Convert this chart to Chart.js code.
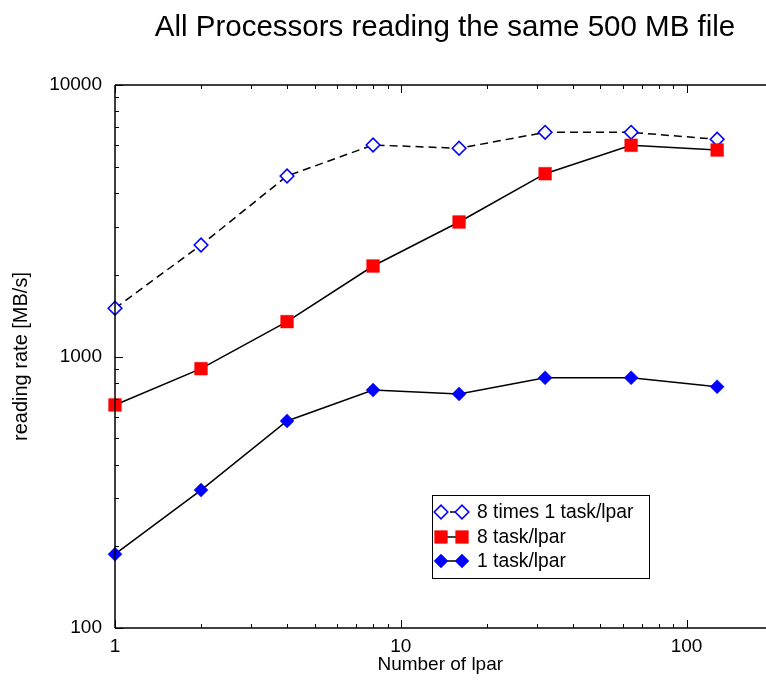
<!DOCTYPE html>
<html>
<head>
<meta charset="utf-8">
<script src="https://cdn.jsdelivr.net/npm/chart.js@4/dist/chart.umd.min.js"></script>
<style>
  html, body { margin: 0; padding: 0; background: #fff; overflow: hidden; width: 766px; height: 683px; }
  canvas { display: block; }
</style>
</head>
<body>
<canvas id="c" width="775" height="683"></canvas>
<script>
// ---- data ----
const chartTitle = 'All Processors reading the same 500 MB file';
const xTitle = 'Number of lpar';
const yTitle = 'reading rate [MB/s]';
const lparCounts = [1, 2, 4, 8, 16, 32, 64, 128];
const eightTimesOneTask = [1505, 2575, 4622, 6012, 5847, 6694, 6694, 6310];
const eightTask = [663, 902, 1344, 2154, 3129, 4713, 5997, 5762];
const oneTask = [187, 322, 579, 752, 728, 835, 835, 774];
const seriesLabels = ['8 times 1 task/lpar', '8 task/lpar', '1 task/lpar'];
const xTickLabels = [1, 10, 100];
const yTickLabels = [100, 1000, 10000];
const xRange = [1, 189];
const yRange = [100, 10000];

const FONT = "'Liberation Sans', Arial, Helvetica, sans-serif";

function pts(vals) { return lparCounts.map((x, i) => ({ x: x, y: vals[i] })); }

function logMinorValues(min, max) {
  const out = [];
  for (let d = Math.floor(Math.log10(min)); d <= Math.ceil(Math.log10(max)); d++) {
    for (let k = 1; k <= 9; k++) {
      const v = k * Math.pow(10, d);
      if (v >= min * 0.9999 && v <= max * 1.0001) out.push({ v: v, major: k === 1 });
    }
  }
  return out;
}

const styles = [
  { style: 'rectRot', radius: 6.8, fill: '#ffffff', stroke: '#0000ff', bw: 1.6, dash: [8, 5] },
  { style: 'rect', radius: 9, fill: '#ff0000', stroke: '#ff0000', bw: 0.5, dash: [] },
  { style: 'rectRot', radius: 7, fill: '#0000ff', stroke: '#0000ff', bw: 0.5, dash: [] }
];

function drawMarker(ctx, s, x, y) {
  ctx.save();
  ctx.fillStyle = s.fill;
  ctx.strokeStyle = s.stroke;
  ctx.lineWidth = s.bw;
  ctx.setLineDash([]);
  ctx.beginPath();
  const r = s.radius;
  if (s.style === 'rect') {
    const h = Math.SQRT1_2 * r;
    ctx.rect(x - h, y - h, 2 * h, 2 * h);
  } else {
    ctx.moveTo(x - r, y); ctx.lineTo(x, y - r); ctx.lineTo(x + r, y); ctx.lineTo(x, y + r); ctx.closePath();
  }
  ctx.fill();
  ctx.stroke();
  ctx.restore();
}

const axesPlugin = {
  id: 'axesPlugin',
  afterDraw(chart) {
    const ctx = chart.ctx;
    const a = chart.chartArea;
    const xs = chart.scales.x, ys = chart.scales.y;
    ctx.save();
    ctx.strokeStyle = '#000';
    ctx.lineWidth = 1.5;
    ctx.beginPath();
    ctx.moveTo(a.left, a.top); ctx.lineTo(a.left, a.bottom);
    ctx.moveTo(a.left, a.top); ctx.lineTo(a.right + 2, a.top);
    ctx.moveTo(a.left, a.bottom); ctx.lineTo(a.right + 2, a.bottom);
    ctx.stroke();
    ctx.lineWidth = 1;
    ctx.beginPath();
    logMinorValues(yRange[0], yRange[1]).forEach(t => {
      const py = Math.round(ys.getPixelForValue(t.v)) + 0.5;
      const len = t.major ? 8 : 4;
      ctx.moveTo(a.left, py); ctx.lineTo(a.left + len, py);
    });
    logMinorValues(xRange[0], 1000).forEach(t => {
      if (t.v > xRange[1]) return;
      const px = Math.round(xs.getPixelForValue(t.v)) + 0.5;
      const len = t.major ? 8 : 4;
      ctx.moveTo(px, a.top); ctx.lineTo(px, a.top + len);
      ctx.moveTo(px, a.bottom); ctx.lineTo(px, a.bottom - len);
    });
    ctx.stroke();

    // title
    ctx.fillStyle = '#000';
    ctx.font = '29.5px ' + FONT;
    ctx.textAlign = 'center';
    ctx.textBaseline = 'alphabetic';
    ctx.fillText(chartTitle, 445, 36);

    // legend
    const bx = 432.5, by = 495.5, bw = 217, bh = 83;
    ctx.fillStyle = '#fff';
    ctx.fillRect(bx, by, bw, bh);
    ctx.strokeStyle = '#000';
    ctx.lineWidth = 1;
    ctx.strokeRect(bx, by, bw, bh);
    const rowsY = [512, 537, 561];
    seriesLabels.forEach((lab, i) => {
      const s = styles[i];
      const y = rowsY[i];
      ctx.save();
      ctx.strokeStyle = '#000';
      ctx.lineWidth = 1.5;
      ctx.setLineDash(s.dash.length ? [5, 4] : []);
      ctx.beginPath(); ctx.moveTo(441, y); ctx.lineTo(462, y); ctx.stroke();
      ctx.restore();
      [441, 462].forEach(px => drawMarker(ctx, s, px, y));
      ctx.fillStyle = '#000';
      ctx.font = '19.3px ' + FONT;
      ctx.textAlign = 'left';
      ctx.textBaseline = 'middle';
      ctx.fillText(lab, 477, y + 1);
    });
    ctx.restore();
  }
};

const valueSets = [eightTimesOneTask, eightTask, oneTask];
const orders = [2, 0, 1];
const datasets = valueSets.map((vals, i) => ({
  label: seriesLabels[i],
  data: pts(vals),
  order: orders[i],
  borderColor: '#000',
  borderWidth: 1.5,
  borderDash: styles[i].dash,
  pointStyle: styles[i].style,
  pointRadius: styles[i].radius,
  pointHoverRadius: styles[i].radius,
  pointBackgroundColor: styles[i].fill,
  pointBorderColor: styles[i].stroke,
  pointBorderWidth: styles[i].bw,
  fill: false,
  tension: 0,
  clip: false
}));

new Chart(document.getElementById('c'), {
  type: 'line',
  data: { datasets: datasets },
  options: {
    responsive: false,
    animation: false,
    devicePixelRatio: 1,
    layout: { padding: { top: 85, left: 0, right: 0, bottom: 0 } },
    plugins: { legend: { display: false }, title: { display: false }, tooltip: { enabled: false } },
    scales: {
      x: {
        type: 'logarithmic',
        min: xRange[0], max: xRange[1],
        grid: { display: false, drawTicks: false },
        border: { display: false },
        afterBuildTicks: s => { s.ticks = xTickLabels.map(v => ({ value: v })); },
        afterFit: s => { s.height = 55; },
        ticks: {
          color: '#000', font: { family: FONT, size: 19 }, padding: 7,
          autoSkip: false, maxRotation: 0,
          callback: v => String(v)
        },
        title: { display: true, text: xTitle, color: '#000', font: { family: FONT, size: 19 }, padding: { top: 0, bottom: 7 } }
      },
      y: {
        type: 'logarithmic',
        min: yRange[0], max: yRange[1],
        grid: { display: false, drawTicks: false },
        border: { display: false },
        afterBuildTicks: s => { s.ticks = yTickLabels.map(v => ({ value: v })); },
        afterFit: s => { s.width = 115; },
        ticks: {
          color: '#000', font: { family: FONT, size: 19 }, padding: 13,
          autoSkip: false,
          callback: v => String(v)
        },
        title: { display: true, text: yTitle, color: '#000', font: { family: FONT, size: 20 }, padding: { top: 9, bottom: 0 } }
      }
    }
  },
  plugins: [axesPlugin]
});
</script>
</body>
</html>
